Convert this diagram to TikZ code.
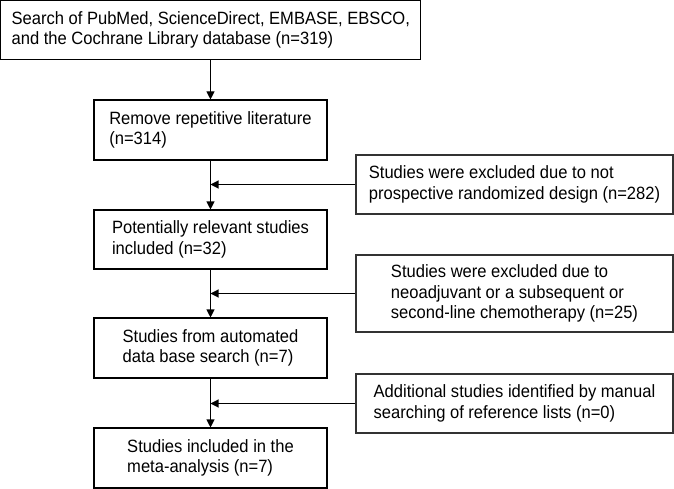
\documentclass[tikz,border=0pt]{standalone}
\usepackage{fontspec}
\setmainfont{Liberation Sans}[FakeStretch=0.93]
\usetikzlibrary{arrows.meta}
\begin{document}
\begin{tikzpicture}[x=1pt,y=-1pt,
  boxstyle/.style={draw=black, line width=1.1pt, align=left, inner sep=4pt,
    font=\fontsize{17.8}{20.5}\selectfont},
  mainbox/.style={boxstyle, minimum width=233pt, minimum height=60pt},
  sidebox/.style={boxstyle, draw=black!80, minimum width=317pt, minimum height=59pt},
  arr/.style={line width=1.1pt, -{Triangle[length=8pt,width=8pt]}}]
\useasboundingbox (0,0) rectangle (674,489);
\node[boxstyle, minimum width=420pt, minimum height=58.5pt] (b1) at (210.8,30)
  {Search of PubMed, ScienceDirect, EMBASE, EBSCO,\\and the Cochrane Library database (n=319)};
\node[mainbox] (b2) at (210.5,130) {Remove repetitive literature\\(n=314)};
\node[mainbox, minimum height=59pt] (b3) at (210.5,239.5) {Potentially relevant studies\\included (n=32)};
\node[mainbox] (b4) at (210.5,348) {Studies from automated\\data base search (n=7)};
\node[mainbox] (b5) at (210.5,458) {Studies included in the\\meta-analysis (n=7)};
\node[sidebox] (r1) at (514.5,184.5) {Studies were excluded due to not\\prospective randomized design (n=282)};
\node[sidebox, minimum height=77pt] (r2) at (514.5,293.5) {Studies were excluded due to\\neoadjuvant or a subsequent or\\second-line chemotherapy (n=25)};
\node[sidebox] (r3) at (514.5,403.5) {Additional studies identified by manual\\searching of reference lists (n=0)};
\draw[arr] (b2.north |- b1.south) -- (b2.north);
\draw[arr] (b2.south) -- (b3.north);
\draw[arr] (b3.south) -- (b4.north);
\draw[arr] (b4.south) -- (b5.north);
\draw[arr] (r1.west) -- (r1.west -| b2.north);
\draw[arr] (r2.west) -- (r2.west -| b2.north);
\draw[arr] (r3.west) -- (r3.west -| b2.north);
\end{tikzpicture}
\end{document}
